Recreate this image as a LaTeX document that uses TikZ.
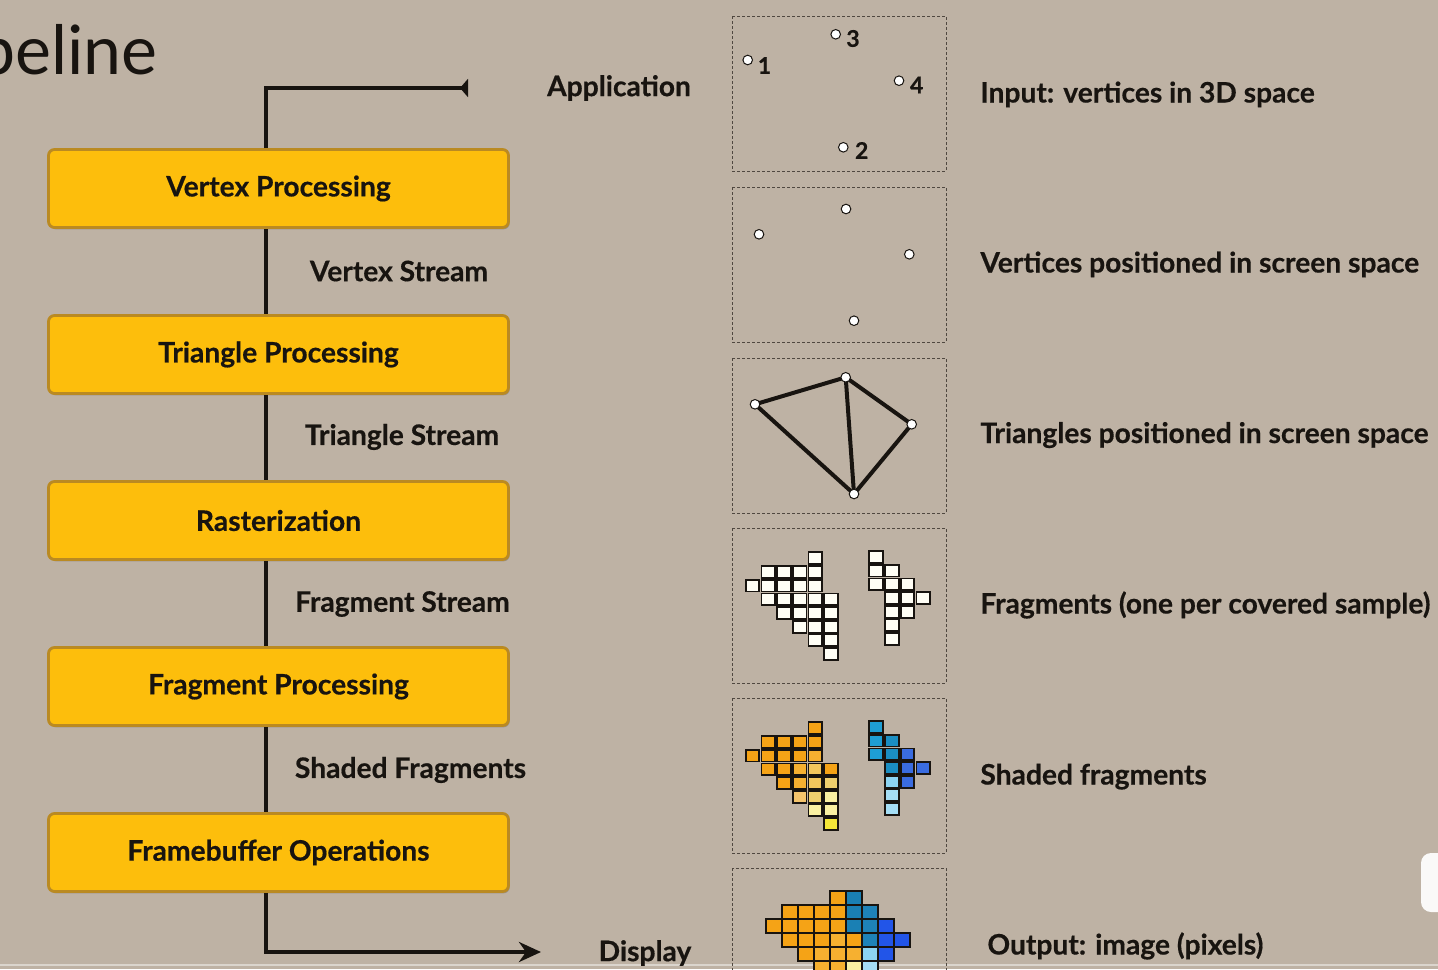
\documentclass[tikz,border=0pt]{standalone}
\usepackage{fontspec}
\setmainfont{Lato}[BoldFeatures={FakeBold=0.45}]
\usetikzlibrary{arrows.meta,shadows}
\definecolor{bg}{RGB}{190,178,164}
\definecolor{ink}{RGB}{24,20,16}
\definecolor{stagefill}{RGB}{253,190,12}
\definecolor{stageborder}{RGB}{186,138,34}
\definecolor{dotline}{RGB}{80,72,64}
\definecolor{cO}{RGB}{245,163,22}
\definecolor{cO2}{RGB}{246,176,48}
\definecolor{cL1}{RGB}{243,198,92}
\definecolor{cL2}{RGB}{240,208,110}
\definecolor{cL3}{RGB}{244,196,108}
\definecolor{cP}{RGB}{250,240,162}
\definecolor{cY}{RGB}{244,230,56}
\definecolor{cT}{RGB}{30,158,212}
\definecolor{cT2}{RGB}{27,142,194}
\definecolor{cB}{RGB}{58,108,224}
\definecolor{cLB}{RGB}{140,212,242}
\definecolor{cLB2}{RGB}{165,222,245}
\definecolor{cTo}{RGB}{26,128,180}
\definecolor{cTo2}{RGB}{30,130,184}
\definecolor{cBo}{RGB}{34,85,232}
\newcommand{\labfont}{\fontsize{14.1}{16}\selectfont\bfseries}
\newcommand{\fragcell}[4]{\draw[cellstyle,fill=#4] (#1+#2*15.7,#3) rectangle ++(13.6,11.8);}
\begin{document}
\begin{tikzpicture}[x=0.5pt,y=-0.5pt,
  stage/.style={draw=stageborder,line width=1.4pt,fill=stagefill,rounded corners=3pt,
    minimum width=230pt,minimum height=39pt,font=\labfont,text=ink,inner sep=0pt,
    general shadow={fill=black,opacity=0.18,shadow xshift=0.6pt,shadow yshift=-0.9pt}},
  lab/.style={font=\labfont,text=ink,inner sep=0pt},
  spine/.style={draw=ink,line width=2pt},
  dbox/.style={draw=dotline,line width=0.5pt,dash pattern=on 1.5pt off 1pt},
  vpt/.style={circle,draw=ink,line width=0.5pt,fill=white,minimum size=4.8pt,inner sep=0pt},
  numlab/.style={font=\fontsize{11.5}{12}\selectfont\bfseries,text=ink,inner sep=0pt},
  edge/.style={draw=ink,line width=2pt},
  cellstyle/.style={draw=ink,line width=0.9pt}
]
\useasboundingbox (0,0) rectangle (1438,969);
\fill[bg] (0,0) rectangle (1438,969);
\draw[line width=0.6pt,color=bg!55!white] (0,965) -- (1438,965);
\fill[white!92!bg,rounded corners=5pt] (1421,853) rectangle (1460,912);

% title
\node[anchor=base east,inner sep=0pt,font=\fontsize{34}{40}\selectfont,text=ink] (title) at (158,74) {peline};

% stages
\node[stage] (vp) at (278.5,188.5) {Vertex Processing};
\node[stage] (tp) at (278.5,354.5) {Triangle Processing};
\node[stage] (ra) at (278.5,520.5) {Rasterization};
\node[stage] (fp) at (278.5,686.5) {Fragment Processing};
\node[stage] (fb) at (278.5,852.5) {Framebuffer Operations};

\coordinate (sx) at (266,0);
\coordinate (appEnd) at (468,88);
\coordinate (dispEnd) at (541,952);

\draw[spine,-{Triangle[reversed,length=4pt,width=9pt]}] (vp.north -| sx) |- (appEnd);
\draw[spine] (vp.south -| sx) -- (tp.north -| sx);
\draw[spine] (tp.south -| sx) -- (ra.north -| sx);
\draw[spine] (ra.south -| sx) -- (fp.north -| sx);
\draw[spine] (fp.south -| sx) -- (fb.north -| sx);
\draw[spine,-{Stealth[length=11pt,width=10pt,inset=3.5pt]}] (fb.south -| sx) |- (dispEnd);

% stream labels
\node[lab] (lapp) at (619,88) {Application};
\node[lab] (lvs) at (399,271) {Vertex Stream};
\node[lab] (lts) at (402,437) {Triangle Stream};
\node[lab] (lfs) at (402.5,604) {Fragment Stream};
\node[lab] (lsf) at (410.5,770) {Shaded Fragments};
\node[lab] (ldisp) at (645,953) {Display};

% right descriptions
\node[lab,anchor=base west] (d1) at (980,102.5) {Input: vertices in 3D space};
\node[lab,anchor=base west] (d2) at (980,272.5) {Vertices positioned in screen space};
\node[lab,anchor=base west] (d3) at (980,443) {Triangles positioned in screen space};
\node[lab,anchor=base west] (d4) at (980,613.5) {Fragments (one per covered sample)};
\node[lab,anchor=base west] (d5) at (980,784.5) {Shaded fragments};
\node[lab,anchor=base west] (d6) at (987,954.5) {Output: image (pixels)};

% dotted frames
\draw[dbox] (732,16) rectangle (946,171);
\draw[dbox] (732,187) rectangle (946,342);
\draw[dbox] (732,358) rectangle (946,513);
\draw[dbox] (732,528) rectangle (946,683);
\draw[dbox] (732,698) rectangle (946,853);
\draw[dbox] (732,868) rectangle (946,985);

% input vertices
\node[vpt] (a1) at (747.7,60) {};
\node[vpt] (a3) at (835.7,34.3) {};
\node[vpt] (a4) at (899,80.7) {};
\node[vpt] (a2) at (843.3,147.3) {};
\node[numlab] (n1) at (764.5,65.5) {1};
\node[numlab] (n3) at (853,38.5) {3};
\node[numlab] (n4) at (916.7,85) {4};
\node[numlab] (n2) at (861.7,150.5) {2};

% screen vertices
\node[vpt] (b1) at (759,234.3) {};
\node[vpt] (b3) at (846,209) {};
\node[vpt] (b4) at (909.3,254.3) {};
\node[vpt] (b2) at (854,320.7) {};

% triangles
\coordinate (c1) at (755,404.3);
\coordinate (c3) at (845.7,377.3);
\coordinate (c4) at (911.7,424.3);
\coordinate (c2) at (854,494);
\draw[edge,line join=round] (c1) -- (c3) -- (c4) -- (c2) -- cycle;
\draw[edge] (c3) -- (c2);
\node[vpt] (t1) at (c1) {};
\node[vpt] (t3) at (c3) {};
\node[vpt] (t4) at (c4) {};
\node[vpt] (t2) at (c2) {};

% fragments (white)
\foreach \c/\r in {4/0,1/1,2/1,3/1,4/1,0/2,1/2,2/2,3/2,4/2,1/3,2/3,3/3,4/3,5/3,2/4,3/4,4/4,5/4,3/5,4/5,5/5,4/6,5/6,5/7}
  {\fragcell{745.7}{\c}{552.3+\r*13.7}{white!96!yellow}}
\foreach \c/\r in {0/0,0/1,1/1,0/2,1/2,2/2,1/3,2/3,3/3,1/4,2/4,1/5,1/6}
  {\fragcell{869.3}{\c}{551+\r*13.7}{white!96!yellow}}

% shaded fragments
\foreach \c/\r/\k in {4/0/cO,1/1/cO,2/1/cO,3/1/cO,4/1/cO,0/2/cO,1/2/cO,2/2/cO,3/2/cO,4/2/cO2,
  1/3/cO,2/3/cO,3/3/cO2,4/3/cL1,5/3/cO,2/4/cO,3/4/cO2,4/4/cL1,5/4/cL2,3/5/cL3,4/5/cL2,5/5/cP,4/6/cP,5/6/cP,5/7/cY}
  {\fragcell{745.7}{\c}{722.3+\r*13.7}{\k}}
\foreach \c/\r/\k in {0/0/cT,0/1/cT,1/1/cT2,0/2/cT,1/2/cT2,2/2/cB,1/3/cT2,2/3/cB,3/3/cB,1/4/cLB,2/4/cB,1/5/cLB2,1/6/cLB2}
  {\fragcell{869.3}{\c}{721+\r*13.7}{\k}}

% output image
\begin{scope}[cellstyle]
\foreach \c/\r/\k in {4/0/cO,1/1/cO,2/1/cO,3/1/cO,4/1/cO,0/2/cO,1/2/cO,2/2/cO,3/2/cO,4/2/cO,
  1/3/cO,2/3/cO,3/3/cO,4/3/cO2,5/3/cO,2/4/cO,3/4/cO2,4/4/cO2,5/4/cO2,3/5/cO2,4/5/cO2,5/5/cP,4/6/cP,5/6/cP,5/7/cY,
  5/0/cTo,5/1/cTo,6/1/cTo2,5/2/cTo,6/2/cTo2,7/2/cBo,6/3/cTo2,7/3/cBo,8/3/cBo,6/4/cLB,7/4/cBo,6/5/cLB2,6/6/cLB2}
  {\draw[fill=\k] (765.7+\c*16,891+\r*14) rectangle ++(16,14);}
\end{scope}
\end{tikzpicture}
\end{document}
